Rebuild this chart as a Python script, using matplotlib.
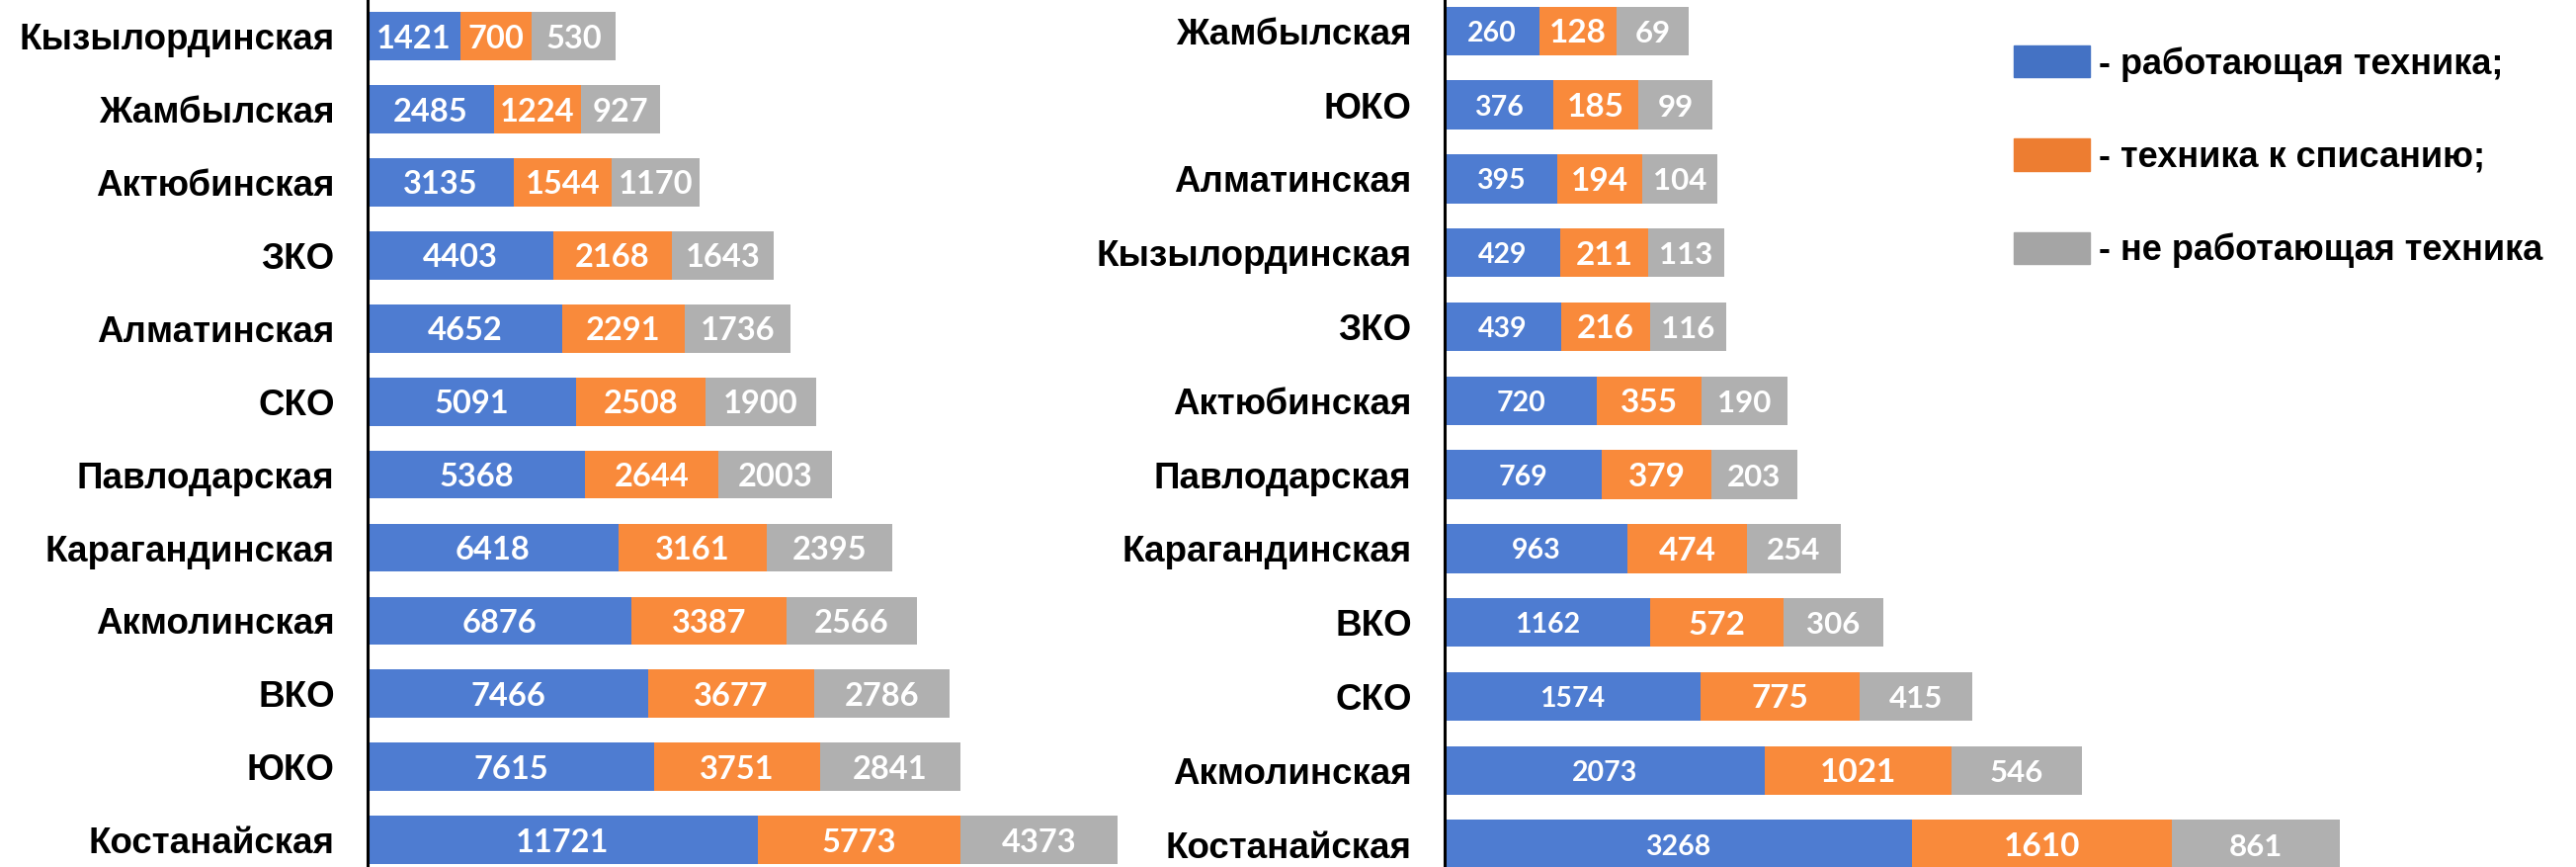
import matplotlib
matplotlib.use("Agg")
import matplotlib.pyplot as plt
from matplotlib.patches import Patch

# ============================
# Datos
# ============================

regions_left = ["Кызылординская", "Жамбылская", "Актюбинская", "ЗКО", "Алматинская", "СКО",
                "Павлодарская", "Карагандинская", "Акмолинская", "ВКО", "ЮКО", "Костанайская"]
work_left = [1421, 2485, 3135, 4403, 4652, 5091, 5368, 6418, 6876, 7466, 7615, 11721]
writeoff_left = [700, 1224, 1544, 2168, 2291, 2508, 2644, 3161, 3387, 3677, 3751, 5773]
idle_left = [530, 927, 1170, 1643, 1736, 1900, 2003, 2395, 2566, 2786, 2841, 4373]

regions_right = ["Жамбылская", "ЮКО", "Алматинская", "Кызылординская", "ЗКО", "Актюбинская",
                 "Павлодарская", "Карагандинская", "ВКО", "СКО", "Акмолинская", "Костанайская"]
work_right = [260, 376, 395, 429, 439, 720, 769, 963, 1162, 1574, 2073, 3268]
writeoff_right = [128, 185, 194, 211, 216, 355, 379, 474, 572, 775, 1021, 1610]
idle_right = [69, 99, 104, 113, 116, 190, 203, 254, 306, 415, 546, 861]

# the original bars are not drawn to scale: drawn segment lengths
len_work_left = [94, 128, 148, 188, 197, 211, 220, 254, 267, 284, 290, 395]
len_off_left = [72, 88, 99, 120, 124, 131, 135, 150, 157, 168, 168, 205]
len_idle_left = [85, 80, 89, 103, 107, 112, 115, 127, 132, 137, 142, 159]

len_work_right = [96, 110, 113.5, 116.5, 118, 154, 159, 185, 208, 259, 324, 473]
len_off_right = [78, 86, 86.5, 89.5, 90, 106, 111, 121, 135, 160.5, 189, 263]
len_idle_right = [73, 75, 76, 76.5, 77, 87, 87, 95, 101, 114.5, 132, 170]

legend_labels = ["- работающая техника;", "- техника к списанию;", "- не работающая техника"]

bar_colors = ["#4E7CD1", "#F98A3B", "#B0B0B0"]
legend_colors = ["#4472C4", "#ED7D31", "#A5A5A5"]

W, H = 2607, 877
fig = plt.figure(figsize=(W / 100, H / 100), dpi=100)


def panel(left_px, width_px, y0, step, regions, values, lengths, sizes):
    ax = fig.add_axes([left_px / W, 0, width_px / W, 1])
    ypos = list(range(len(regions)))
    start = [0] * len(regions)
    for vals, lens, col, fs in zip(values, lengths, bar_colors, sizes):
        bars = ax.barh(ypos, lens, left=start, height=0.66, color=col)
        for bar, v in zip(bars, vals):
            ax.text(bar.get_x() + bar.get_width() / 2, bar.get_y() + bar.get_height() / 2,
                    str(v), ha="center", va="center_baseline", color="white",
                    fontsize=fs, fontweight="bold", family=["Lato", "DejaVu Sans"])
        start = [s + l for s, l in zip(start, lens)]
    ax.set_xlim(0, width_px)
    ax.set_ylim((H - y0) / step, -y0 / step)
    ax.set_yticks(ypos)
    ax.set_yticklabels(regions, fontsize=26.5, fontweight="bold",
                       family=["Liberation Sans", "DejaVu Sans"])
    ax.tick_params(axis="y", length=0, pad=24)
    ax.set_xticks([])
    for s in ["top", "right", "bottom"]:
        ax.spines[s].set_visible(False)
    ax.spines["left"].set_linewidth(2.2)
    ax.spines["left"].set_color("black")
    ax.patch.set_alpha(0)
    return ax


panel(372, 800, 36.7, 73.9, regions_left,
      [work_left, writeoff_left, idle_left],
      [len_work_left, len_off_left, len_idle_left], [23.5, 23.5, 23.5])
panel(1462, 1100, 31.3, 74.8, regions_right,
      [work_right, writeoff_right, idle_right],
      [len_work_right, len_off_right, len_idle_right], [20.5, 24, 22.5])

handles = [Patch(color=c) for c in legend_colors]
fig.legend(handles, legend_labels, loc="upper left", bbox_to_anchor=(2038 / W, 1 - 46 / H),
           frameon=False, borderpad=0, borderaxespad=0, handlelength=2.13, handleheight=1.0,
           handletextpad=0.24, labelspacing=1.6,
           prop={"family": ["Liberation Sans", "DejaVu Sans"], "weight": "bold", "size": 26})

fig.savefig("out.png", dpi=100)
